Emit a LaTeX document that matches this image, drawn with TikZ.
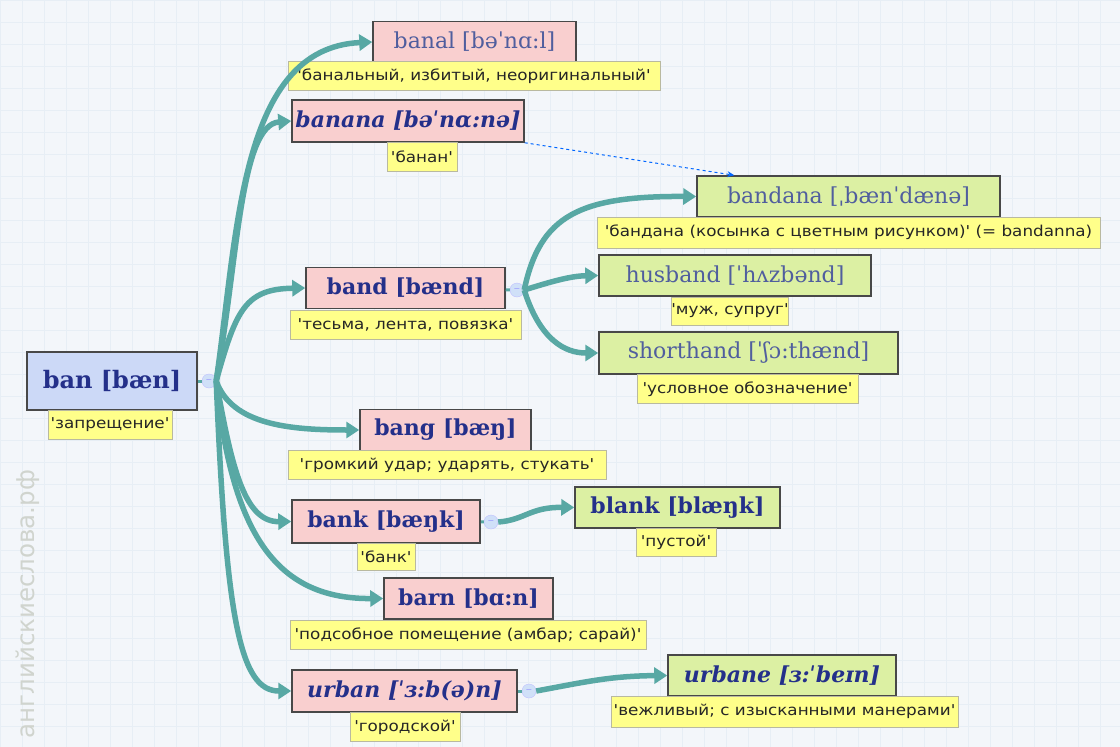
\documentclass[tikz,border=0pt]{standalone}
\usepackage{fontspec}
\setmainfont{DejaVu Serif}
\newfontfamily\glossfont[FakeStretch=1.12]{DejaVu Sans}
\newfontfamily\markfont{DejaVu Sans}
\usepackage{xcolor}
\usetikzlibrary{arrows.meta,calc}
\definecolor{bgc}{RGB}{243,246,250}
\definecolor{gridc}{RGB}{231,238,245}
\definecolor{tealc}{RGB}{88,168,164}
\definecolor{pinkc}{RGB}{249,207,207}
\definecolor{greenc}{RGB}{220,240,163}
\definecolor{bluec}{RGB}{204,217,247}
\definecolor{yellowc}{RGB}{255,255,138}
\definecolor{glossline}{RGB}{185,185,160}
\definecolor{boxline}{RGB}{72,72,72}
\definecolor{inkbold}{RGB}{36,48,138}
\definecolor{inklight}{RGB}{80,94,158}
\definecolor{togglec}{RGB}{208,224,248}
\definecolor{wmc}{RGB}{208,212,206}
\begin{document}
\begin{tikzpicture}[x=1pt, y=-1pt,
  word/.style={draw=boxline, line width=1.5pt, inner sep=0pt, minimum height=41pt,
    font=\fontsize{22}{24}\selectfont\bfseries, text=inkbold},
  wordlight/.style={word, font=\fontsize{22}{24}\selectfont, text=inklight},
  wordit/.style={word, font=\fontsize{22}{24}\selectfont\bfseries\itshape},
  gloss/.style={draw=glossline, line width=1pt, fill=yellowc, inner sep=0pt, minimum height=29pt,
    font=\glossfont\fontsize{15}{17}\selectfont, text=black!85},
  toggle/.style={circle, draw=blue!25, fill=togglec, minimum size=14pt, inner sep=0pt,
    font=\markfont\fontsize{8}{8}\selectfont, text=blue!40},
  stem/.style={tealc, line width=3pt},
  branch/.style={tealc, line width=5.5pt, -{Triangle[length=13pt, width=16pt]}},
  seealso/.style={blue!60!cyan, line width=1pt, dashed, -{Stealth[length=7pt, width=6pt]}}]
  \useasboundingbox[fill=bgc] (0,0) rectangle (1120,747);
  \draw[gridc, line width=0.6pt] (0,0) grid[step=22pt] (1120,747);
  \node[rotate=90, font=\markfont\fontsize{24.5}{26}\selectfont, text=wmc] (wm) at (28,604) {английскиеслова.рф};

  \node[word, fill=bluec, minimum width=170pt, minimum height=58pt, font=\fontsize{24}{26}\selectfont\bfseries] (ban) at (112,381) {ban [bæn]};
  \node[gloss, minimum width=124pt] (banG) at (110,425) {'запрещение'};
  \node[toggle] (banT) at (209,381) {−};

  \node[wordlight, fill=pinkc, minimum width=203pt] (banal) at (474.5,42) {banal [bəˈnɑ:l]};
  \node[gloss, minimum width=372pt] (banalG) at (474,76) {'банальный, избитый, неоригинальный'};
  \node[wordit, fill=pinkc, minimum width=232pt, minimum height=42pt] (banana) at (408,121) {banana [bəˈnɑ:nə]};
  \node[gloss, minimum width=70pt] (bananaG) at (422,157) {'банан'};
  \node[word, fill=pinkc, minimum width=199pt] (band) at (405.5,288) {band [bænd]};
  \node[gloss, minimum width=231pt] (bandG) at (405.5,325) {'тесьма, лента, повязка'};
  \node[toggle] (bandT) at (517,290) {−};
  \node[word, fill=pinkc, minimum width=171pt] (bang) at (445.5,430) {bang [bæŋ]};
  \node[gloss, minimum width=318pt] (bangG) at (447,465) {'громкий удар; ударять, стукать'};
  \node[word, fill=pinkc, minimum width=188pt, minimum height=43pt] (bank) at (386,521.5) {bank [bæŋk]};
  \node[gloss, minimum width=58pt, minimum height=27pt] (bankG) at (386,556.5) {'банк'};
  \node[toggle] (bankT) at (491,522) {−};
  \node[word, fill=pinkc, minimum width=169pt] (barn) at (468.5,598.5) {barn [bɑ:n]};
  \node[gloss, minimum width=356pt] (barnG) at (468,635) {'подсобное помещение (амбар; сарай)'};
  \node[wordit, fill=pinkc, minimum width=225pt, minimum height=42pt] (urban) at (404.5,691) {urban [ˈɜ:b(ə)n]};
  \node[gloss, minimum width=110pt] (urbanG) at (405,727) {'городской'};
  \node[toggle] (urbanT) at (529,691) {−};

  \node[wordlight, fill=greenc, minimum width=303pt] (bandana) at (848.5,196.5) {bandana [ˌbænˈdænə]};
  \node[gloss, minimum width=503pt, minimum height=31pt] (bandanaG) at (848.5,232.5) {'бандана (косынка с цветным рисунком)' (= bandanna)};
  \node[wordlight, fill=greenc, minimum width=272pt] (husband) at (735,275.5) {husband [ˈhʌzbənd]};
  \node[gloss, minimum width=116pt, minimum height=28pt] (husbandG) at (730,311) {'муж, супруг'};
  \node[wordlight, fill=greenc, minimum width=299pt, minimum height=42pt] (shorthand) at (748.5,353) {shorthand [ˈʃɔ:thænd]};
  \node[gloss, minimum width=221pt] (shorthandG) at (747.5,389) {'условное обозначение'};
  \node[word, fill=greenc, minimum width=205pt] (blank) at (677.5,507.5) {blank [blæŋk]};
  \node[gloss, minimum width=80pt, minimum height=28pt] (blankG) at (676,542) {'пустой'};
  \node[wordit, fill=greenc, minimum width=228pt] (urbane) at (782,675.5) {urbane [ɜ:ˈbeɪn]};
  \node[gloss, minimum width=347pt, minimum height=31pt] (urbaneG) at (784.5,711.5) {'вежливый; с изысканными манерами'};

  \draw[stem] (ban) -- (banT);
  \draw[stem] (band) -- (bandT);
  \draw[stem] (bank) -- (bankT);
  \draw[stem] (urban) -- (urbanT);
  \draw[branch] (banT.east) .. controls (238,230) and (240,48) .. (banal.west);
  \draw[branch] (banT.east) .. controls (238,260) and (240,125) .. (banana.west);
  \draw[branch] (banT.east) .. controls (236,310) and (245,289) .. (band.west);
  \draw[branch] (banT.east) .. controls (232,425) and (290,430) .. (bang.west);
  \draw[branch] (banT.east) .. controls (232,470) and (245,522) .. (bank.west);
  \draw[branch] (banT.east) .. controls (232,540) and (280,599) .. (barn.west);
  \draw[branch] (banT.east) .. controls (226,620) and (240,691) .. (urban.west);
  \draw[branch] (bandT.east) .. controls (540,215) and (580,196) .. (bandana.west);
  \draw[branch] (bandT.east) .. controls (550,282) and (570,276) .. (husband.west);
  \draw[branch] (bandT.east) .. controls (540,340) and (565,353) .. (shorthand.west);
  \draw[branch] (bankT.east) .. controls (525,520) and (530,507) .. (blank.west);
  \draw[branch] (urbanT.east) .. controls (585,682) and (610,676) .. (urbane.west);
  \coordinate (bandanaTop) at ($(bandana.north west)+(38,0)$);
  \draw[seealso] (banana.south east) -- (bandanaTop);
\end{tikzpicture}
\end{document}
